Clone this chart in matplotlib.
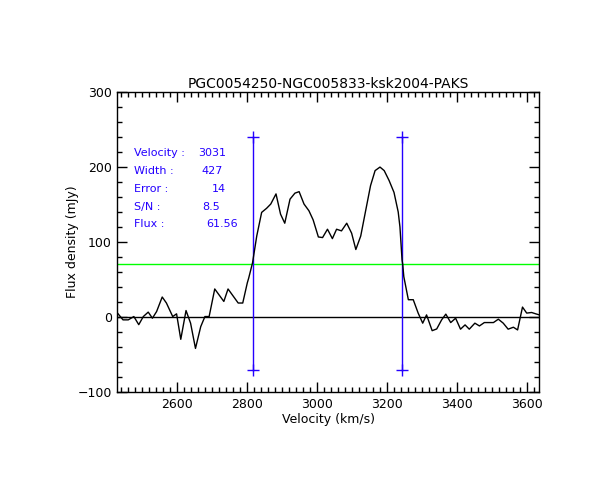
import matplotlib
matplotlib.use("Agg")
import matplotlib.pyplot as plt
from matplotlib.ticker import MultipleLocator

velocity = [2429, 2447, 2462, 2478, 2492, 2505, 2519, 2531, 2543, 2559, 2571, 2589,
            2600, 2612, 2627, 2640, 2654, 2669, 2681, 2693, 2709, 2735, 2747, 2776,
            2789, 2802, 2806, 2817, 2829, 2843, 2857, 2869, 2884, 2897, 2909, 2924,
            2938, 2950, 2964, 2978, 2990, 3005, 3017, 3031, 3045, 3057, 3071, 3086,
            3100, 3112, 3126, 3140, 3154, 3167, 3181, 3193, 3207, 3221, 3233, 3238,
            3241, 3244, 3246, 3249, 3262, 3276, 3290, 3303, 3314, 3330, 3343, 3357,
            3369, 3383, 3397, 3411, 3424, 3436, 3452, 3465, 3479, 3492, 3505, 3519,
            3533, 3547, 3562, 3574, 3588, 3600, 3614, 3626, 3636]
flux = [6.7, -3.6, -3.6, 0.8, -10, 0.8, 6.7, -1.4, 7.5, 26.8, 18.8, 0.8,
        4.4, -29.5, 8.8, -8, -41.6, -12.6, 0.8, 0.8, 37.5, 20.9, 37.5, 18.8,
        18.8, 45.6, 52, 72.4, 108, 139.4, 144.8, 150.5, 164, 137, 125, 157,
        165, 167, 150.5, 141.6, 129.5, 106.7, 105.9, 117, 104.5, 117, 114.8, 125,
        111.7, 90, 108, 141.6, 175, 195, 199.7, 195, 181.8, 166, 140, 120,
        98, 76, 70, 54, 23.2, 23.2, 5.4, -8, 3, -18, -15.7, -3.6,
        4, -7.2, -1.4, -16, -10.3, -16, -8, -11.7, -7.2, -7.2, -7.2, -2.7,
        -8, -16, -13.4, -17, 13.4, 5.4, 6.2, 4.4, 3]

title = "PGC0054250-NGC005833-ksk2004-PAKS"
x_label = "Velocity (km/s)"
y_label = "Flux density (mJy)"
xlim = (2429, 3636)
ylim = (-100, 300)
edge_left = 2817.5
edge_right = 3244.5
edge_low = -70
edge_high = 240
half_level = 71

stat_names = ["Velocity :", "Width :", "Error :", "S/N :", "Flux :"]
stat_values = ["3031", "427", "14", "8.5", "61.56"]
stat_value_x_px = [197.7, 201.7, 211.7, 202.7, 206.7]
stat_y_px = [153.3, 171.0, 188.7, 206.7, 224.3]

W, H = 612, 500
fig = plt.figure(figsize=(W / 100, H / 100), dpi=100)
L, R, T, B = 116.7, 539.3, 91.7, 392.3
ax = fig.add_axes([L / W, 1 - B / H, (R - L) / W, (B - T) / H])

plt.rcParams['font.family'] = ['DejaVu Sans']
blue = '#2400ff'

ax.axhline(0, color='black', lw=1.0, zorder=2)
ax.axhline(half_level, color='#00ff00', lw=1.0, zorder=2)
for xe in (edge_left, edge_right):
    ax.plot([xe, xe], [edge_low, edge_high], color=blue, lw=1.0,
            marker='+', markersize=9, markeredgewidth=1.0, zorder=3)
ax.plot(velocity, flux, color='black', lw=1.0, zorder=4)

ax.set_xlim(*xlim)
ax.set_ylim(*ylim)
ax.xaxis.set_major_locator(MultipleLocator(200))
ax.xaxis.set_minor_locator(MultipleLocator(20))
ax.yaxis.set_major_locator(MultipleLocator(100))
ax.yaxis.set_minor_locator(MultipleLocator(20))
ax.tick_params(which='both', direction='in', top=True, right=True, width=1.0,
               labelsize=9, colors='black')
ax.tick_params(which='major', length=7)
ax.tick_params(which='minor', length=3.5)
ax.tick_params(axis='x', pad=4)
for s in ax.spines.values():
    s.set_linewidth(1.0)

ax.set_title(title, fontsize=10, pad=3)
ax.set_xlabel(x_label, fontsize=9)
ax.set_ylabel(y_label, fontsize=9)
ax.xaxis.set_label_coords(0.5, (B - 412.5) / (B - T))
ax.yaxis.set_label_coords((78.5 - L) / (R - L), 0.5)

for name, val, vx, vy in zip(stat_names, stat_values, stat_value_x_px, stat_y_px):
    fig.text(134 / W, 1 - vy / H, name, color=blue, fontsize=8, va='center', ha='left')
    fig.text(vx / W, 1 - vy / H, val, color=blue, fontsize=8, va='center', ha='left')

fig.savefig("out.png", dpi=100)
